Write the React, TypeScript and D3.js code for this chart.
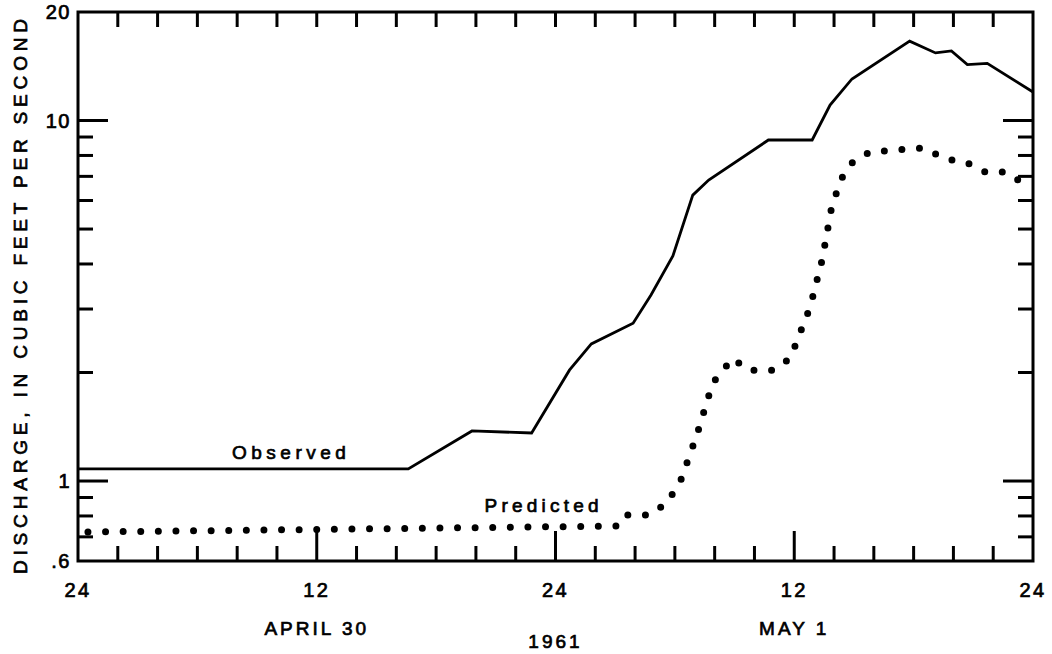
import React from 'react';
import * as d3 from 'd3';

// Hours after 0000 April 30, 1961
const observedHours = [0, 16.6, 19.8, 22.8, 24.7, 25.8, 27.9, 28.8, 29.9, 30.9, 31.7, 34.7, 36.9, 37.8, 38.9, 41.8, 43.1, 43.9, 44.7, 45.7, 48];
const observedDischarge = [1.08, 1.08, 1.377, 1.359, 2.03, 2.4, 2.74, 3.28, 4.21, 6.21, 6.84, 8.83, 8.83, 11.04, 13.04, 16.6, 15.4, 15.6, 14.3, 14.4, 12.0];

const predictedHours = [0.5, 27.1, 27.5, 28.7, 29.6, 30.3, 31.1, 31.9, 32.9, 33.7, 34.9, 35.8, 36.8, 37.4, 37.9, 38.4, 38.9, 39.8, 42.5, 43.6, 44.6, 45.6, 46.6, 47.5];
const predictedDischarge = [0.722, 0.75, 0.805, 0.805, 0.869, 1.006, 1.34, 1.87, 2.19, 2.03, 2.03, 2.19, 3.04, 4.1, 5.83, 6.93, 7.62, 8.18, 8.39, 7.82, 7.67, 7.2, 7.2, 6.71];

const xMinorTicks = [2, 4, 6, 8, 10, 14, 16, 18, 20, 22, 26, 28, 30, 32, 34, 38, 40, 42, 44, 46];
const xMajorTicks = [12, 24, 36];
const xTickHours = [0, 12, 24, 36, 48];
const xTickLabels = ['24', '12', '24', '12', '24'];
const dateHours = [12, 36];
const dateLabels = ['APRIL 30', 'MAY 1'];
const yearLabel = '1961';

const yMinorTicks = [0.7, 0.8, 0.9, 2, 3, 4, 5, 6, 7, 8, 9];
const yMajorTicks = [1, 10];
const yTickValues = [0.6, 1, 10, 20];
const yTickLabels = ['.6', '1', '10', '20'];

const FONT = '"Liberation Sans", Arial, Helvetica, sans-serif';

export default function App() {
  const left = 78, right = 1033, top = 12, bottom = 561;
  const x = d3.scaleLinear().domain([0, 48]).range([left, right]);
  const y = d3.scaleLog().domain([0.6, 20]).range([bottom, top]);

  const obs = observedHours.map((h, i) => [h, observedDischarge[i]] as [number, number]);
  const pred = predictedHours.map((h, i) => [h, predictedDischarge[i]] as [number, number]);
  const line = d3.line<[number, number]>().x(d => x(d[0])).y(d => y(d[1]));

  const minorLen = 15, majorLen = 30;
  const txt = { fontFamily: FONT, fill: '#000', stroke: '#000', strokeWidth: 0.7 } as const;

  return (
    <svg width={1052} height={654} style={{ position: 'fixed', left: 0, top: 0, background: '#fff' }}>
      <rect x={0} y={0} width={1052} height={654} fill="#fff" />
      {/* frame */}
      <rect x={left} y={top} width={right - left} height={bottom - top} fill="none" stroke="#000" strokeWidth={3} />
      {/* x ticks bottom & top */}
      {xMinorTicks.map(h => (
        <g key={'xm' + h}>
          <line x1={x(h)} x2={x(h)} y1={bottom} y2={bottom - minorLen} stroke="#000" strokeWidth={3} />
          <line x1={x(h)} x2={x(h)} y1={top} y2={top + minorLen} stroke="#000" strokeWidth={3} />
        </g>
      ))}
      {xMajorTicks.map(h => (
        <g key={'xM' + h}>
          <line x1={x(h)} x2={x(h)} y1={bottom} y2={bottom - majorLen} stroke="#000" strokeWidth={3} />
          <line x1={x(h)} x2={x(h)} y1={top} y2={top + minorLen} stroke="#000" strokeWidth={3} />
        </g>
      ))}
      {/* y ticks left & right */}
      {yMinorTicks.map(v => (
        <g key={'ym' + v}>
          <line x1={left} x2={left + minorLen} y1={y(v)} y2={y(v)} stroke="#000" strokeWidth={3} />
          <line x1={right} x2={right - minorLen} y1={y(v)} y2={y(v)} stroke="#000" strokeWidth={3} />
        </g>
      ))}
      {yMajorTicks.map(v => (
        <g key={'yM' + v}>
          <line x1={left} x2={left + majorLen} y1={y(v)} y2={y(v)} stroke="#000" strokeWidth={3} />
          <line x1={right} x2={right - majorLen} y1={y(v)} y2={y(v)} stroke="#000" strokeWidth={3} />
        </g>
      ))}
      {/* y tick labels */}
      {yTickValues.map((v, i) => (
        <text key={'yl' + v} x={left - 7} y={y(v)} dy="0.36em" textAnchor="end" fontSize={20} {...txt}
          letterSpacing={1.5}>{yTickLabels[i]}</text>
      ))}
      {/* x tick labels */}
      {xTickHours.map((h, i) => (
        <text key={'xl' + h} x={x(h)} y={bottom + 36} textAnchor="middle" fontSize={20} {...txt}
          letterSpacing={2.5}>{xTickLabels[i]}</text>
      ))}
      {dateHours.map((h, i) => (
        <text key={'dl' + h} x={x(h)} y={bottom + 74} textAnchor="middle" fontSize={19} {...txt}
          letterSpacing={3}>{dateLabels[i]}</text>
      ))}
      <text x={x(24)} y={bottom + 87} textAnchor="middle" fontSize={19} {...txt} letterSpacing={3}>{yearLabel}</text>
      {/* y axis title */}
      <text transform={`translate(27, ${(top + bottom) / 2 + 10}) rotate(-90)`} textAnchor="middle" fontSize={19}
        {...txt} textLength={555} lengthAdjust="spacing">DISCHARGE, IN CUBIC FEET PER SECOND</text>
      {/* series */}
      <path d={line(obs) || ''} fill="none" stroke="#000" strokeWidth={2.8} strokeLinejoin="miter" />
      <path d={line(pred) || ''} fill="none" stroke="#000" strokeWidth={7} strokeLinecap="round"
        strokeDasharray="0 17.6" />
      {/* series labels */}
      <text x={x(10.6)} y={y(observedDischarge[0]) - 10} textAnchor="middle" fontSize={19} {...txt}
        textLength={114} lengthAdjust="spacing">Observed</text>
      <text x={x(23.3)} y={y(predictedDischarge[1]) - 14} textAnchor="middle" fontSize={19} {...txt}
        textLength={114} lengthAdjust="spacing">Predicted</text>
    </svg>
  );
}
